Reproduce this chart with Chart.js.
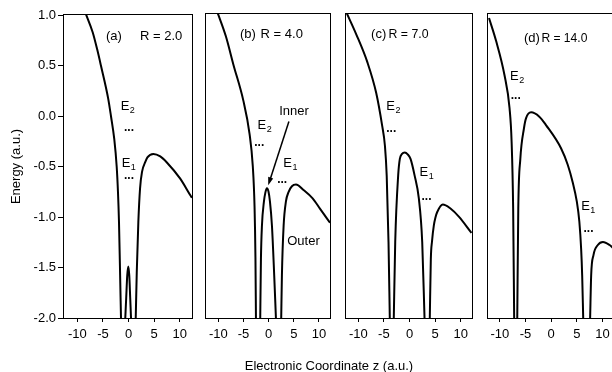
<!DOCTYPE html>
<html>
<head>
<meta charset="utf-8">
<title>Energy vs electronic coordinate</title>
<script src="https://cdn.jsdelivr.net/npm/chart.js@4.4.1/dist/chart.umd.min.js"></script>
<style>
    html, body { margin: 0; padding: 0; width: 612px; height: 372px; overflow: hidden; background: #fff; }
    canvas { position: absolute; top: 0; }
    #xTitle { position: absolute; left: 0; top: 358px; width: 658px; text-align: center;
              font: 13px "Liberation Sans", Arial, Helvetica, sans-serif; line-height: 15px; color: #000; }
</style>
</head>
<body>
<canvas id="panelA" width="200" height="372" style="left:0px"></canvas>
<canvas id="panelB" width="136" height="372" style="left:200px"></canvas>
<canvas id="panelC" width="138" height="372" style="left:340px"></canvas>
<canvas id="panelD" width="140" height="372" style="left:482px"></canvas>
<div id="xTitle">Electronic Coordinate z (a.u.)</div>

<script>
// Tick values shared by the four panels
const xTicks = [-10, -5, 0, 5, 10];
const yTicks = [1.0, 0.5, 0.0, -0.5, -1.0, -1.5, -2.0];

// Potential curves (null = break between branches)
const zA = [-8.33, -7.0, -6.12, -5.39, -3.96, -3.43, -2.78, -2.31, -2.06, -1.86, -1.67, -1.47, null,
            -0.63, -0.45, -0.25, -0.04, 0.15, 0.33, 0.49, null,
            1.41, 1.61, 1.92, 2.25, 2.65, 3.24, 3.69, 4.86, 6.2, 7.49, 10.1, 12.2, 12.4];
const eA = [1.01, 0.83, 0.66, 0.5, 0.17, 0.0, -0.23, -0.5, -0.75, -1.05, -1.5, -2.0, null,
            -2.0, -1.8, -1.58, -1.49, -1.58, -1.8, -2.0, null,
            -2.0, -1.55, -1.05, -0.72, -0.55, -0.46, -0.41, -0.376, -0.40, -0.46, -0.62, -0.795, -0.81];

const zB = [-10.2, -8.5, -7.0, -5.05, -3.8, -3.15, -2.8, -2.62, -2.52, null,
            -1.67, -1.53, -1.33, -0.93, -0.64, -0.34, -0.04, 0.26, 0.66, 1.11, 1.45, null,
            2.5, 2.64, 2.98, 3.44, 3.98, 4.63, 5.43, 7.0, 8.75, 10.2, 12.05, 12.2];
const eB = [1.02, 0.78, 0.5, 0.15, -0.18, -0.5, -0.9, -1.4, -2.0, null,
            -2.0, -1.42, -1.09, -0.85, -0.76, -0.72, -0.75, -0.85, -1.09, -1.58, -2.0, null,
            -2.0, -1.58, -1.09, -0.85, -0.755, -0.70, -0.683, -0.74, -0.82, -0.92, -1.05, -1.06];

const zC = [-12.36, -10.4, -8.2, -6.5, -5.35, -4.8, -4.45, -4.1, -3.85, null,
            -3.07, -2.79, -2.21, -1.89, -1.46, -0.92, -0.35, 0.2, 0.98, 1.82, 2.48, 2.93, null,
            3.96, 4.16, 4.4, 4.75, 5.05, 5.41, 6.5, 8.0, 9.63, 12.1];
const eC = [1.02, 0.8, 0.52, 0.22, -0.1, -0.3, -0.6, -1.25, -2.0, null,
            -2.0, -1.25, -0.59, -0.43, -0.38, -0.366, -0.385, -0.43, -0.59, -0.82, -1.25, -2.0, null,
            -2.0, -1.42, -1.24, -1.086, -1.01, -0.954, -0.88, -0.92, -1.0, -1.16];

const zD = [-12.1, -10.7, -9.1, -8.1, -7.7, -7.4, -7.2, null,
            -6.6, -6.4, -6.0, -5.3, -4.9, -3.9, -2.3, -1.0, 1.95, 3.25, 4.2, 5.0, 5.5, 5.85, 6.05, 6.25, null,
            7.6, 7.8, 8.25, 9.1, 10.1, 11.4, 12.3];
const eD = [0.96, 0.73, 0.40, 0.07, -0.26, -0.92, -2.0, null,
            -2.0, -0.92, -0.43, -0.13, -0.03, 0.03, -0.013, -0.096, -0.327, -0.49, -0.66, -0.85, -1.05, -1.32, -1.58, -2.0, null,
            -2.0, -1.58, -1.38, -1.28, -1.25, -1.28, -1.32];

const FONT = '"Liberation Sans", Arial, Helvetica, sans-serif';
Chart.defaults.font.family = FONT;
Chart.defaults.font.size = 13;
Chart.defaults.color = '#000';

// frame around the plot area + labels, level marks and the arrow
const notesPlugin = {
    id: 'panelNotes',
    afterDatasetsDraw(chart, args, opts) {
        const { ctx, chartArea: a, scales: { x, y } } = chart;
        ctx.save();
        ctx.strokeStyle = '#000';
        ctx.fillStyle = '#000';
        ctx.lineWidth = 1;
        ctx.strokeRect(a.left - 0.5, a.top - 0.5, a.right - a.left + 1, a.bottom - a.top + 1);

        (opts.items || []).forEach(it => {
            const px = x.getPixelForValue(it.z);
            const py = y.getPixelForValue(it.e);
            if (it.kind === 'text') {
                ctx.font = `13px ${FONT}`;
                ctx.textAlign = 'left';
                ctx.textBaseline = 'middle';
                if (it.w) ctx.fillText(it.text, px, py, it.w);
                else ctx.fillText(it.text, px, py);
            } else if (it.kind === 'level') {
                ctx.font = `13px ${FONT}`;
                ctx.textAlign = 'left';
                ctx.textBaseline = 'middle';
                ctx.fillText('E', px, py);
                const w = ctx.measureText('E').width;
                ctx.font = `9px ${FONT}`;
                ctx.fillText(it.n, px + w + 0.5, py + 4);
            } else if (it.kind === 'dots') {
                ctx.font = `bold 12px ${FONT}`;
                ctx.textAlign = 'left';
                ctx.textBaseline = 'alphabetic';
                ctx.fillText('...', px, py + 1);
            } else if (it.kind === 'arrow') {
                const qx = x.getPixelForValue(it.z2);
                const qy = y.getPixelForValue(it.e2);
                const ang = Math.atan2(qy - py, qx - px);
                const head = 8;
                ctx.lineWidth = 1.5;
                ctx.beginPath();
                ctx.moveTo(px, py);
                ctx.lineTo(qx - Math.cos(ang) * head * 0.8, qy - Math.sin(ang) * head * 0.8);
                ctx.stroke();
                ctx.beginPath();
                ctx.moveTo(qx, qy);
                ctx.lineTo(qx - head * Math.cos(ang) + 2.6 * Math.sin(ang), qy - head * Math.sin(ang) - 2.6 * Math.cos(ang));
                ctx.lineTo(qx - head * Math.cos(ang) - 2.6 * Math.sin(ang), qy - head * Math.sin(ang) + 2.6 * Math.cos(ang));
                ctx.closePath();
                ctx.fill();
            }
        });
        ctx.restore();
    }
};

function makePanel(id, z, e, cfg) {
    const points = z.map((v, i) => ({ x: v, y: e[i] }));
    return new Chart(document.getElementById(id), {
        type: 'line',
        data: {
            datasets: [{
                data: points,
                borderColor: '#000',
                borderWidth: 2,
                pointRadius: 0,
                fill: false,
                spanGaps: false,
                cubicInterpolationMode: 'monotone'
            }]
        },
        options: {
            responsive: false,
            animation: false,
            events: [],
            layout: { padding: cfg.padding },
            plugins: {
                legend: { display: false },
                tooltip: { enabled: false },
                panelNotes: { items: cfg.notes }
            },
            scales: {
                x: {
                    type: 'linear',
                    min: cfg.xMin,
                    max: cfg.xMax,
                    afterBuildTicks: axis => { axis.ticks = xTicks.map(v => ({ value: v })); },
                    afterFit: axis => { axis.height = 54; },
                    ticks: { maxRotation: 0, padding: 5, font: { size: 13 }, callback: v => String(v) },
                    grid: { drawOnChartArea: false, drawTicks: true, tickLength: 4, color: '#000' },
                    border: { display: false }
                },
                y: {
                    type: 'linear',
                    display: cfg.showY,
                    min: -2.0,
                    max: 1.0,
                    afterBuildTicks: axis => { axis.ticks = yTicks.map(v => ({ value: v })); },
                    afterFit: axis => { axis.width = cfg.showY ? 64 : 0; },
                    ticks: { padding: 2, font: { size: 13 }, callback: v => Number(v).toFixed(1) },
                    grid: { drawOnChartArea: false, drawTicks: true, tickLength: 6, color: '#000' },
                    border: { display: false },
                    title: { display: true, text: 'Energy (a.u.)', font: { size: 13 }, padding: { top: 9, bottom: 0 } }
                }
            }
        },
        plugins: [notesPlugin]
    });
}

makePanel('panelA', zA, eA, {
    xMin: -12.6, xMax: 12.4, showY: true,
    padding: { top: 15, right: 8, left: 0, bottom: 0 },
    notes: [
        { kind: 'text', text: '(a)', z: -4.4, e: 0.79 },
        { kind: 'text', text: 'R = 2.0', z: 2.25, e: 0.79 },
        { kind: 'level', n: '2', z: -1.53, e: 0.09 },
        { kind: 'dots', z: -0.88, e: -0.14 },
        { kind: 'level', n: '1', z: -1.33, e: -0.47 },
        { kind: 'dots', z: -0.88, e: -0.61 }
    ]
});

makePanel('panelB', zB, eB, {
    xMin: -12.45, xMax: 12.2, showY: false,
    padding: { top: 14, right: 6, left: 6, bottom: 0 },
    notes: [
        { kind: 'text', text: '(b)', z: -5.7, e: 0.795 },
        { kind: 'text', text: 'R = 4.0', z: -1.6, e: 0.795 },
        { kind: 'level', n: '2', z: -2.19, e: -0.10 },
        { kind: 'dots', z: -2.86, e: -0.29 },
        { kind: 'text', text: 'Inner', z: 2.1, e: 0.04 },
        { kind: 'arrow', z: 4.03, e: -0.06, z2: -0.08, e2: -0.69 },
        { kind: 'level', n: '1', z: 2.9, e: -0.475 },
        { kind: 'dots', z: 1.7, e: -0.66 },
        { kind: 'text', text: 'Outer', z: 3.7, e: -1.245 }
    ]
});

makePanel('panelC', zC, eC, {
    xMin: -12.4, xMax: 12.2, showY: false,
    padding: { top: 14, right: 6, left: 6, bottom: 0 },
    notes: [
        { kind: 'text', text: '(c)', z: -7.5, e: 0.795 },
        { kind: 'text', text: 'R = 7.0', z: -4.1, e: 0.795, w: 40 },
        { kind: 'level', n: '2', z: -4.55, e: 0.086 },
        { kind: 'dots', z: -4.55, e: -0.15 },
        { kind: 'level', n: '1', z: 1.95, e: -0.565 },
        { kind: 'dots', z: 2.34, e: -0.83 }
    ]
});

makePanel('panelD', zD, eD, {
    xMin: -12.3, xMax: 12.25, showY: false,
    padding: { top: 14, right: 8, left: 6, bottom: 0 },
    notes: [
        { kind: 'text', text: '(d)', z: -5.3, e: 0.76 },
        { kind: 'text', text: 'R = 14.0', z: -1.9, e: 0.76, w: 46 },
        { kind: 'level', n: '2', z: -8.0, e: 0.386 },
        { kind: 'dots', z: -7.86, e: 0.175 },
        { kind: 'level', n: '1', z: 5.85, e: -0.9 },
        { kind: 'dots', z: 6.3, e: -1.145 }
    ]
});
</script>
</body>
</html>
